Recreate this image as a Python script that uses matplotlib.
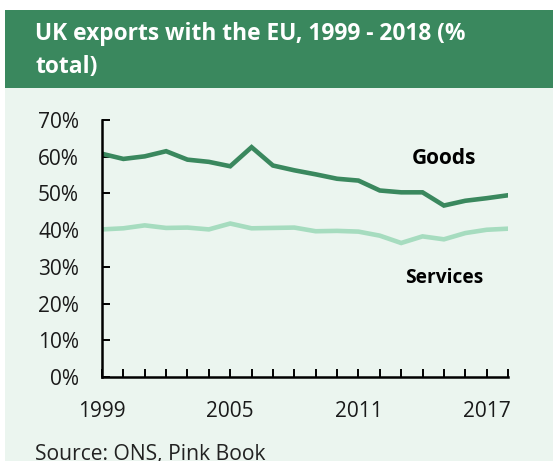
import numpy as np
import matplotlib
matplotlib.use("Agg")
from matplotlib import pyplot as plt
from matplotlib.patches import Rectangle
from matplotlib.ticker import FuncFormatter, MultipleLocator

plt.rcParams['font.family'] = ['Open Sans', 'DejaVu Sans']

years = np.arange(1999, 2019)
goods = [60.8, 59.4, 60.1, 61.5, 59.2, 58.6, 57.4, 62.6, 57.6, 56.3,
         55.2, 54.0, 53.5, 50.8, 50.3, 50.3, 46.7, 48.0, 48.7, 49.5]
services = [40.2, 40.5, 41.3, 40.6, 40.7, 40.2, 41.8, 40.5, 40.6, 40.7,
            39.7, 39.8, 39.6, 38.5, 36.5, 38.3, 37.5, 39.2, 40.1, 40.4]
year_labels = [1999, 2005, 2011, 2017]

dark_green = '#3a885e'
light_green = '#a6dcbf'
panel_bg = '#ebf5ef'

W, H = 553, 461
fig = plt.figure(figsize=(W / 100, H / 100), dpi=100, facecolor='white')

# panel background and title band, in pixel terms
fig.patches.append(Rectangle((5 / W, 0), 1 - 5 / W, (H - 88) / H,
                             transform=fig.transFigure, facecolor=panel_bg,
                             edgecolor='none', zorder=-2))
fig.patches.append(Rectangle((5 / W, (H - 88) / H), 1 - 5 / W, 78 / H,
                             transform=fig.transFigure, facecolor=dark_green,
                             edgecolor='none', zorder=-2))
fig.text(35 / W, (H - 50) / H, "UK exports with the EU, 1999 - 2018 (%\ntotal)",
         color='white', fontsize=16.4, fontweight='bold', ha='left', va='center',
         linespacing=1.5)

ax = fig.add_axes([102 / W, (H - 377) / H, 406 / W, 257 / H])
ax.set_zorder(2)
ax.set_facecolor('none')
ax.plot(years, goods, color=dark_green, lw=3.3, solid_joinstyle='miter', zorder=3)
ax.plot(years, services, color=light_green, lw=3.3, solid_joinstyle='miter', zorder=3)

ax.set_xlim(1999, 2018)
ax.set_ylim(0, 70)
ax.yaxis.set_major_locator(MultipleLocator(10))
ax.yaxis.set_major_formatter(FuncFormatter(lambda v, p: f"{v:.0f}%"))
ax.set_xticks(year_labels)
ax.set_xticks(years, minor=True)
ax.set_xticklabels([str(y) for y in year_labels])

for s in ['top', 'right']:
    ax.spines[s].set_visible(False)
for s in ['left', 'bottom']:
    ax.spines[s].set_linewidth(1.8)
    ax.spines[s].set_color('black')
    ax.spines[s].set_zorder(4)

ax.tick_params(axis='both', which='both', direction='in', length=5.5, width=1.4,
               colors='black', labelsize=15, labelcolor='#1a1a1a')
ax.tick_params(axis='y', pad=16.5)
ax.tick_params(axis='x', pad=17.5)

ax.text(2015.0, 59.6, "Goods", fontsize=15, fontweight='bold', ha='center', va='center')
ax.text(2015.0, 27.1, "Services", fontsize=13.8, fontweight='bold', ha='center', va='center')

fig.text(35 / W, 1 / H, "Source: ONS, Pink Book", fontsize=15.2, color='#222222',
         ha='left', va='baseline')

fig.savefig('out.png', dpi=100, facecolor='white')
